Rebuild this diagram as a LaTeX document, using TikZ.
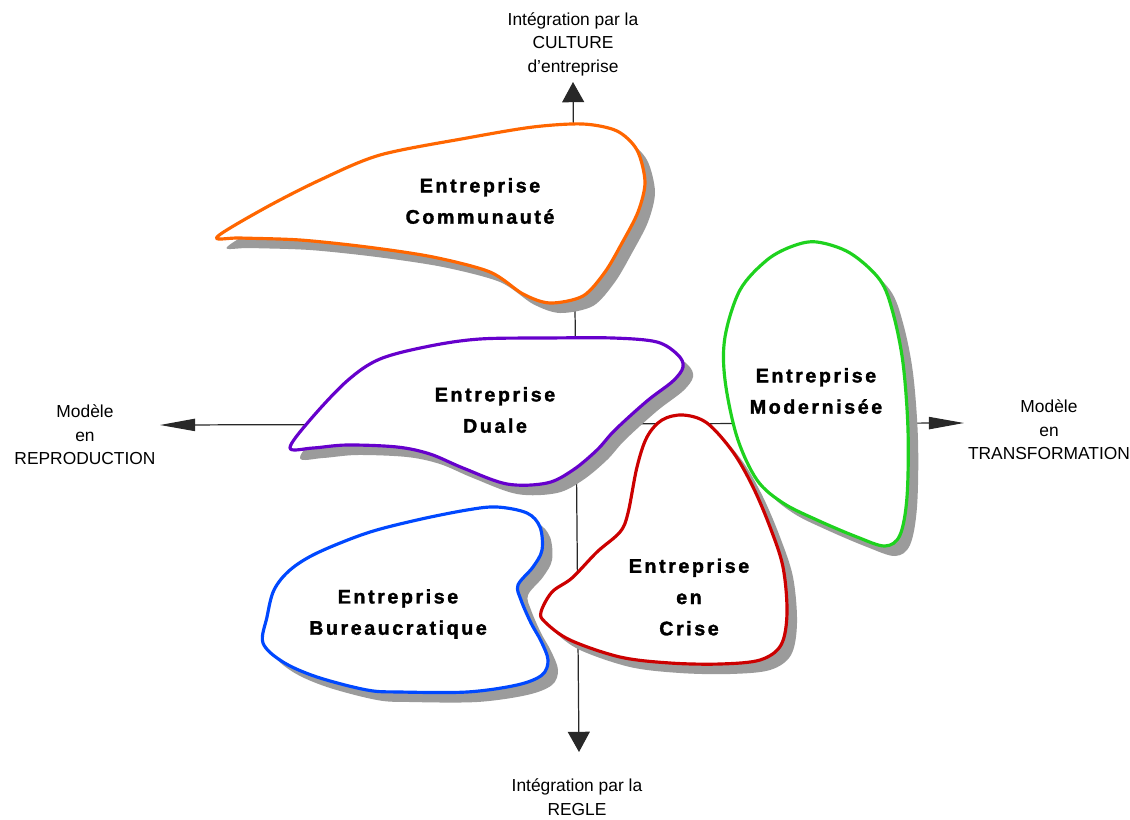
\documentclass[tikz,border=0pt]{standalone}
\usepackage{fontspec}
\setmainfont{Liberation Sans}
\newfontfamily\blobfont[LetterSpace=13, BoldFeatures={FakeBold=1.6}]{Liberation Sans}
\usetikzlibrary{arrows.meta}
\definecolor{corange}{RGB}{255,102,0}
\definecolor{cpurple}{RGB}{102,0,204}
\definecolor{cgreen}{RGB}{30,210,30}
\definecolor{cred}{RGB}{204,0,0}
\definecolor{cblue}{RGB}{0,72,255}
\definecolor{cshadow}{RGB}{155,155,155}
\definecolor{caxis}{RGB}{40,40,40}
\tikzset{
  axisline/.style={draw=caxis, line width=0.7pt},
  blobshadow/.style={fill=cshadow, shift={(10,10)}},
  blobline/.style={fill=white, line width=1.8pt, line join=round},
  blobtext/.style={font=\blobfont\bfseries\fontsize{11.2}{17.8}\selectfont, align=center, inner sep=0pt},
  axistext/.style={font=\fontsize{9.9}{13.4}\selectfont, align=center, inner sep=0pt},
}
\def\pComm{plot[smooth cycle, tension=0.5] coordinates {(217,237) (265,208) (320,180) (380,155) (467,138) (533,127) (583,124) (617,131) (637,150) (645,182) (638,212) (622,243) (605,272) (583,296) (550,303) (523,294) (490,272) (433,257) (367,247) (300,240) (240,238)}}
\def\pDual{plot[smooth cycle, tension=0.55] coordinates {(290,448) (310,420) (347,381) (380,359) (430,346) (480,339) (547,338) (613,338) (657,342) (678,355) (683,367) (673,381) (647,401) (615,430) (597,450) (573,470) (547,483) (507,484) (463,468) (430,454) (397,447) (347,445) (313,448)}}
\def\pMod{plot[smooth cycle, tension=0.55] coordinates {(817,242) (850,253) (880,280) (893,313) (903,363) (908,430) (907,497) (900,535) (885,546) (857,537) (817,520) (783,503) (757,480) (737,437) (725,380) (725,337) (740,290) (767,260) (793,246)}}
\def\pCrise{plot[smooth cycle, tension=0.55] coordinates {(683,415) (707,423) (733,452) (753,487) (770,527) (783,567) (787,613) (781,645) (760,660) (720,664) (670,663) (620,657) (570,640) (545,622) (541,612) (552,592) (572,578) (597,552) (620,532) (628,513) (637,467) (647,437) (662,420)}}
\def\pBur{plot[smooth cycle, tension=0.55] coordinates {(497,507) (527,513) (540,527) (542,550) (533,567) (518,585) (521,600) (531,623) (541,641) (548,660) (542,675) (517,685) (467,692) (400,692) (367,690) (317,677) (283,662) (263,643) (267,617) (274,590) (290,570) (317,553) (367,533) (417,520) (467,510)}}
\begin{document}
\begin{tikzpicture}[x=0.02cm, y=-0.02cm]
\useasboundingbox[fill=white] (0,0) rectangle (1130,819);
% axes
\coordinate (top) at (573,82);
\coordinate (bottom) at (579,752);
\coordinate (left) at (160,425);
\coordinate (right) at (964,423);
\draw[axisline, {Triangle[length=11.5pt,width=12.5pt]}-{Triangle[length=11.5pt,width=12.5pt]}] (bottom) -- (top);
\draw[axisline, {Triangle[length=20pt,width=7pt]}-{Triangle[length=20pt,width=7pt]}] (left) -- (right);
% shadows
\fill[blobshadow] \pComm;
\fill[blobshadow] \pDual;
\fill[blobshadow] \pMod;
\fill[blobshadow] \pCrise;
\fill[blobshadow] \pBur;
% blobs
\draw[blobline, draw=corange] \pComm;
\draw[blobline, draw=cpurple] \pDual;
\draw[blobline, draw=cred] \pCrise;
\draw[blobline, draw=cgreen] \pMod;
\draw[blobline, draw=cblue] \pBur;
% blob labels
\node[blobtext] (tcomm) at (480,201) {Entreprise\\Communauté};
\node[blobtext] (tdual) at (495,410) {Entreprise\\Duale};
\node[blobtext] (tmod) at (816,391) {Entreprise\\Modernisée};
\node[blobtext] (tcrise) at (689,597) {Entreprise\\en\\Crise};
\node[blobtext] (tbur) at (398,614) {Entreprise\\Bureaucratique};
% axis labels
\node[axistext] (ltop) at (573,44) {Intégration par la\\CULTURE\\d'entreprise};
\node[axistext] (lleft) at (85,435) {Modèle\\en\\REPRODUCTION};
\node[axistext] (lright) at (1049,430) {Modèle\\en\\TRANSFORMATION};
\node[axistext] (lbottom) at (577,797) {Intégration par la\\REGLE};
\end{tikzpicture}
\end{document}
